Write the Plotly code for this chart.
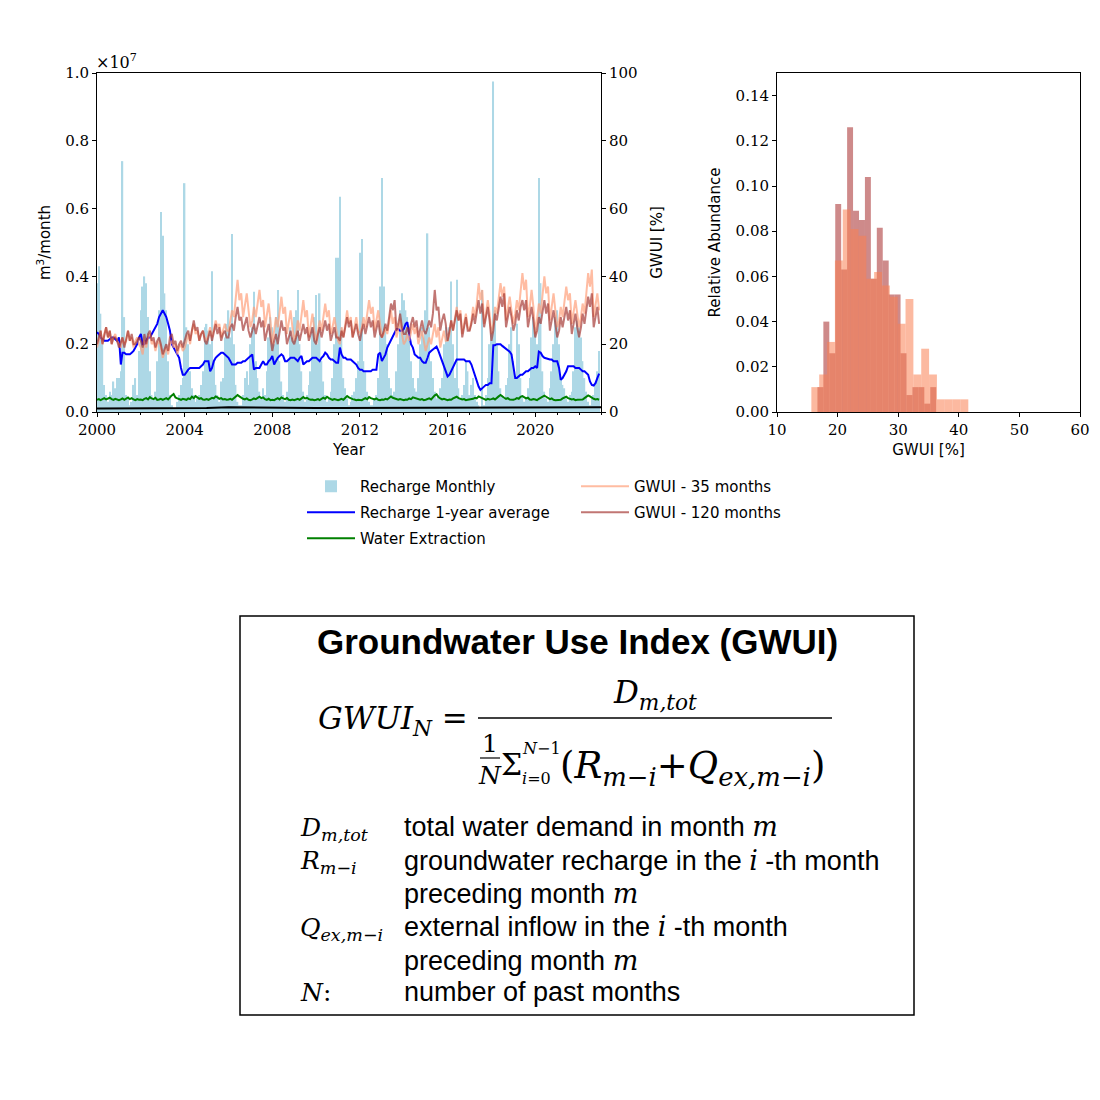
# gwui_figure.py
# recharge / extraction time series, GWUI histogram and the GWUI definition box

import plotly.graph_objects as go
import pandas as pd

# monthly recharge, units of 1e7 m3/month, one row per year 2000..2022
recharge_monthly = [
    0.38, 0.43, 0.29, 0.20, 0.08, 0.05, 0.03, 0.06, 0.05, 0.09, 0.07, 0.10,   # 2000
    0.10, 0.12, 0.74, 0.28, 0.05, 0.04, 0.02, 0.03, 0.08, 0.10, 0.05, 0.18,   # 2001
    0.30, 0.37, 0.40, 0.38, 0.28, 0.12, 0.05, 0.04, 0.06, 0.15, 0.30, 0.59,   # 2002
    0.52, 0.35, 0.30, 0.15, 0.05, 0.02, 0.01, 0.01, 0.03, 0.05, 0.08, 0.10,   # 2003
    0.675, 0.25, 0.20, 0.12, 0.07, 0.05, 0.03, 0.04, 0.05, 0.08, 0.12, 0.25,  # 2004
    0.26, 0.24, 0.20, 0.415, 0.15, 0.08, 0.05, 0.03, 0.09, 0.10, 0.22, 0.26,  # 2005
    0.30, 0.22, 0.525, 0.20, 0.08, 0.03, 0.02, 0.02, 0.05, 0.10, 0.12, 0.08,  # 2006
    0.20, 0.25, 0.355, 0.15, 0.10, 0.06, 0.04, 0.07, 0.05, 0.12, 0.22, 0.28,  # 2007
    0.25, 0.20, 0.28, 0.36, 0.15, 0.09, 0.05, 0.03, 0.06, 0.15, 0.25, 0.22,   # 2008
    0.28, 0.30, 0.36, 0.20, 0.12, 0.06, 0.03, 0.05, 0.08, 0.12, 0.25, 0.28,   # 2009
    0.345, 0.20, 0.35, 0.15, 0.09, 0.05, 0.03, 0.04, 0.06, 0.10, 0.20, 0.455, # 2010
    0.455, 0.635, 0.25, 0.10, 0.07, 0.04, 0.02, 0.03, 0.05, 0.06, 0.10, 0.15, # 2011
    0.47, 0.51, 0.15, 0.12, 0.06, 0.03, 0.02, 0.02, 0.04, 0.05, 0.10, 0.37,   # 2012
    0.69, 0.37, 0.25, 0.20, 0.10, 0.07, 0.05, 0.06, 0.12, 0.20, 0.30, 0.35,   # 2013
    0.33, 0.30, 0.28, 0.25, 0.15, 0.10, 0.07, 0.06, 0.10, 0.20, 0.25, 0.22,   # 2014
    0.30, 0.527, 0.25, 0.15, 0.10, 0.06, 0.04, 0.05, 0.07, 0.10, 0.20, 0.25,  # 2015
    0.22, 0.25, 0.385, 0.20, 0.10, 0.39, 0.07, 0.04, 0.05, 0.08, 0.15, 0.12,  # 2016
    0.05, 0.08, 0.10, 0.05, 0.03, 0.02, 0.01, 0.36, 0.02, 0.05, 0.10, 0.20,   # 2017
    0.25, 0.975, 0.30, 0.20, 0.12, 0.07, 0.05, 0.04, 0.08, 0.10, 0.20, 0.25,  # 2018
    0.15, 0.10, 0.26, 0.20, 0.10, 0.05, 0.03, 0.04, 0.07, 0.10, 0.22, 0.28,   # 2019
    0.25, 0.20, 0.69, 0.38, 0.12, 0.06, 0.04, 0.03, 0.07, 0.12, 0.20, 0.28,   # 2020
    0.30, 0.20, 0.10, 0.08, 0.07, 0.04, 0.03, 0.05, 0.06, 0.12, 0.25, 0.27,   # 2021
    0.25, 0.22, 0.15, 0.10, 0.06, 0.03, 0.02, 0.04, 0.05, 0.08, 0.12, 0.18,   # 2022
]

# 1-year moving average of recharge, 1e7 m3/month
recharge_1yr = [
    0.235, 0.23, 0.22, 0.215, 0.21, 0.21, 0.21, 0.215, 0.22, 0.22, 0.215, 0.21,
    0.22, 0.14, 0.175, 0.175, 0.17, 0.17, 0.17, 0.175, 0.18, 0.19, 0.20, 0.22,
    0.23, 0.20, 0.20, 0.21, 0.22, 0.22, 0.23, 0.24, 0.25, 0.26, 0.28, 0.29,
    0.30, 0.29, 0.28, 0.26, 0.24, 0.20, 0.19, 0.18, 0.17, 0.16, 0.13, 0.11,
    0.11, 0.12, 0.125, 0.13, 0.13, 0.13, 0.13, 0.13, 0.13, 0.135, 0.14, 0.15,
    0.15, 0.15, 0.12, 0.13, 0.15, 0.16, 0.165, 0.17, 0.175, 0.175, 0.17, 0.165,
    0.16, 0.15, 0.14, 0.14, 0.14, 0.145, 0.145, 0.145, 0.15, 0.15, 0.155, 0.16,
    0.165, 0.17, 0.125, 0.13, 0.13, 0.13, 0.14, 0.15, 0.14, 0.14, 0.15, 0.155,
    0.165, 0.14, 0.15, 0.16, 0.165, 0.17, 0.165, 0.15, 0.15, 0.155, 0.16, 0.16,
    0.16, 0.155, 0.15, 0.16, 0.165, 0.14, 0.145, 0.15, 0.15, 0.155, 0.16, 0.16,
    0.16, 0.155, 0.15, 0.16, 0.165, 0.175, 0.17, 0.16, 0.155, 0.155, 0.15, 0.145,
    0.145, 0.19, 0.17, 0.16, 0.16, 0.155, 0.155, 0.155, 0.15, 0.145, 0.14, 0.13,
    0.125, 0.125, 0.12, 0.12, 0.12, 0.12, 0.12, 0.125, 0.125, 0.125, 0.17, 0.175,
    0.15, 0.16, 0.17, 0.19, 0.20, 0.21, 0.22, 0.23, 0.245, 0.245, 0.24, 0.24,
    0.245, 0.26, 0.265, 0.23, 0.20, 0.19, 0.17, 0.165, 0.16, 0.16, 0.15, 0.145,
    0.145, 0.16, 0.175, 0.18, 0.185, 0.19, 0.193, 0.18, 0.165, 0.15, 0.13, 0.115,
    0.105, 0.11, 0.12, 0.13, 0.14, 0.155, 0.155, 0.155, 0.155, 0.155, 0.15, 0.15,
    0.15, 0.14, 0.125, 0.11, 0.09, 0.075, 0.065, 0.07, 0.075, 0.08, 0.08, 0.085,
    0.085, 0.197, 0.197, 0.20, 0.20, 0.20, 0.195, 0.19, 0.185, 0.18, 0.178, 0.17,
    0.14, 0.10, 0.10, 0.105, 0.11, 0.11, 0.115, 0.12, 0.12, 0.125, 0.13, 0.13,
    0.135, 0.13, 0.178, 0.175, 0.165, 0.16, 0.158, 0.155, 0.155, 0.155, 0.15, 0.15,
    0.15, 0.13, 0.095, 0.10, 0.11, 0.12, 0.135, 0.135, 0.135, 0.135, 0.13, 0.13,
    0.13, 0.125, 0.12, 0.12, 0.115, 0.11, 0.09, 0.08, 0.078, 0.085, 0.10, 0.113,
]

# water extraction, 1e7 m3/month
water_extraction = [
    .036, .038, .035, .039, .041, .037, .040, .042, .038, .036, .039, .037,
    .035, .037, .040, .036, .039, .043, .038, .041, .037, .035, .038, .036,
    .037, .035, .039, .041, .037, .044, .040, .038, .042, .036, .037, .039,
    .036, .038, .041, .037, .044, .049, .053, .043, .040, .038, .036, .039,
    .037, .036, .040, .038, .045, .041, .047, .042, .039, .041, .037, .036,
    .038, .036, .039, .042, .040, .046, .043, .039, .041, .037, .038, .036,
    .037, .039, .036, .041, .044, .050, .046, .042, .039, .037, .040, .036,
    .035, .037, .040, .038, .042, .045, .041, .043, .038, .036, .039, .035,
    .036, .035, .038, .041, .037, .043, .040, .038, .041, .036, .035, .037,
    .035, .037, .039, .036, .041, .044, .040, .042, .038, .036, .037, .035,
    .036, .038, .035, .040, .042, .039, .045, .041, .038, .036, .038, .037,
    .035, .037, .039, .036, .042, .047, .043, .040, .038, .037, .035, .036,
    .036, .035, .038, .041, .038, .044, .041, .039, .037, .040, .036, .035,
    .037, .036, .039, .037, .043, .046, .042, .040, .038, .036, .038, .036,
    .035, .037, .036, .040, .038, .043, .041, .039, .037, .036, .038, .035,
    .036, .038, .040, .037, .044, .049, .052, .044, .040, .037, .039, .036,
    .035, .037, .036, .040, .042, .045, .041, .039, .037, .038, .035, .036,
    .037, .036, .039, .042, .040, .046, .043, .041, .038, .036, .039, .037,
    .038, .040, .037, .043, .046, .050, .045, .042, .039, .041, .037, .036,
    .036, .038, .041, .039, .045, .047, .043, .040, .042, .037, .036, .038,
    .037, .035, .039, .042, .044, .048, .045, .041, .038, .040, .036, .035,
    .035, .037, .036, .040, .043, .045, .041, .039, .037, .038, .035, .036,
    .036, .038, .037, .041, .044, .049, .046, .042, .039, .037, .038, .036,
]

# black base line (yearly points), 1e7 m3/month
base_years = list(range(2000, 2024))
base_flow = [0.010, 0.010, 0.010, 0.010, 0.011, 0.012, 0.014, 0.013, 0.012, 0.012,
             0.012, 0.012, 0.012, 0.012, 0.012, 0.012, 0.012, 0.012, 0.012, 0.013,
             0.013, 0.014, 0.014, 0.014]

# GWUI [%], 35 month window
gwui_35 = [
    19, 21, 24, 20, 23, 25, 22, 24, 20, 22, 23, 21,
    20, 19, 22, 20, 21, 24, 21, 22, 19, 21, 22, 20,
    19, 17, 21, 19, 22, 23, 20, 21, 18, 20, 21, 19,
    16, 18, 19, 17, 20, 21, 19, 20, 17, 19, 20, 18,
    19, 21, 23, 20, 24, 26, 23, 24, 21, 23, 24, 22,
    21, 23, 25, 22, 25, 27, 25, 26, 22, 24, 26, 24,
    24, 27, 30, 28, 34, 39, 33, 35, 28, 31, 35, 30,
    25, 27, 31, 28, 32, 36, 31, 33, 25, 28, 32, 27,
    20, 24, 28, 25, 29, 34, 29, 31, 23, 26, 30, 25,
    21, 23, 27, 24, 28, 33, 28, 30, 22, 25, 29, 24,
    21, 24, 27, 24, 28, 32, 28, 30, 23, 25, 28, 24,
    21, 20, 25, 22, 26, 30, 26, 28, 22, 25, 28, 24,
    23, 25, 28, 25, 29, 33, 29, 31, 24, 27, 30, 26,
    22, 23, 25, 23, 27, 30, 26, 28, 22, 25, 27, 23,
    20, 21, 23, 21, 24, 26, 23, 25, 20, 22, 24, 21,
    18, 20, 22, 20, 23, 26, 22, 25, 19, 22, 24, 21,
    21, 23, 27, 24, 28, 31, 27, 30, 23, 26, 29, 25,
    24, 27, 31, 28, 32, 38, 33, 36, 26, 29, 33, 29,
    23, 26, 31, 29, 34, 38, 34, 37, 27, 30, 34, 30,
    26, 29, 33, 30, 35, 41, 36, 39, 28, 31, 36, 31,
    23, 27, 32, 29, 34, 40, 35, 37, 27, 31, 35, 30,
    25, 27, 31, 28, 32, 37, 33, 35, 26, 29, 33, 29,
    25, 28, 32, 29, 35, 41, 37, 42, 28, 31, 35, 30,
]

# GWUI [%], 120 month window
gwui_120 = [
    20, 22, 24, 20, 23, 25, 22, 24, 20, 22, 22, 21,
    19, 21, 22, 19, 22, 24, 21, 23, 20, 20, 21, 22,
    21, 19, 23, 20, 23, 24, 21, 22, 19, 21, 22, 20,
    17, 19, 20, 18, 22, 23, 20, 21, 18, 20, 21, 19,
    21, 23, 24, 21, 24, 27, 24, 25, 21, 23, 24, 21,
    20, 22, 24, 21, 24, 26, 23, 25, 21, 23, 24, 22,
    22, 25, 26, 24, 28, 31, 27, 28, 24, 26, 28, 24,
    22, 24, 26, 23, 26, 28, 25, 27, 21, 24, 26, 22,
    18, 21, 23, 20, 24, 27, 24, 25, 20, 22, 24, 21,
    20, 22, 24, 21, 24, 26, 23, 25, 21, 23, 25, 21,
    20, 23, 25, 22, 25, 27, 24, 26, 21, 23, 25, 22,
    22, 21, 24, 22, 25, 28, 25, 27, 22, 24, 26, 23,
    21, 24, 26, 23, 26, 28, 25, 27, 22, 25, 27, 23,
    22, 24, 26, 24, 28, 32, 30, 33, 24, 26, 29, 25,
    23, 23, 25, 23, 26, 28, 25, 27, 22, 25, 27, 24,
    23, 25, 27, 25, 29, 36, 30, 31, 24, 27, 29, 26,
    21, 24, 27, 24, 27, 30, 27, 29, 22, 25, 28, 24,
    24, 26, 29, 26, 29, 33, 29, 32, 25, 28, 31, 27,
    21, 24, 29, 27, 31, 34, 31, 35, 25, 28, 31, 28,
    24, 26, 30, 27, 31, 33, 30, 33, 25, 28, 31, 27,
    22, 24, 28, 26, 30, 33, 29, 32, 24, 27, 30, 26,
    22, 24, 28, 25, 28, 31, 27, 30, 23, 26, 29, 25,
    22, 25, 29, 26, 30, 34, 31, 35, 25, 28, 31, 26,
]

# histograms (relative abundance per bin)
hist35_start, hist35_width = 15.67, 1.295
hist35_heights = [0.011, 0.0166, 0.031, 0.067, 0.0896, 0.081, 0.078, 0.059, 0.062, 0.056,
                  0.051, 0.039, 0.050, 0.0166, 0.028, 0.0166, 0.0056, 0.0056, 0.0056, 0.0056]
hist120_start, hist120_width = 16.67, 0.98
hist120_heights = [0.011, 0.040, 0.026, 0.092, 0.063, 0.126, 0.089, 0.085, 0.104, 0.059,
                   0.0815, 0.067, 0.052, 0.052, 0.026, 0.0075, 0.011, 0.011, 0.0037, 0.011]

months = pd.date_range("2000-01-01", periods=len(recharge_monthly), freq="MS")
base_dates = [f"{y}-01-01" for y in base_years]

# page body has an 8px margin, so the figure is a bit smaller and coordinates shifted
OFF = 8
W = H = 1084
def px(x):
    return (x - OFF) / W
def py(y):
    return 1 - (y - OFF) / H

SERIF = "DejaVu Serif"
SANS = "DejaVu Sans"
MATH = "DejaVu Serif"

fig = go.Figure()

# left panel
fig.add_trace(go.Bar(x=months, y=recharge_monthly, name="Recharge Monthly",
                     marker=dict(color="#ADD8E6", line_width=0), width=24 * 86400000,
                     legend="legend", legendgroup="a"))
fig.add_trace(go.Scatter(x=months, y=recharge_1yr, mode="lines", name="Recharge 1-year average",
                         line=dict(color="blue", width=2), legend="legend", legendgroup="b"))
fig.add_trace(go.Scatter(x=months, y=water_extraction, mode="lines", name="Water Extraction",
                         line=dict(color="green", width=2), legend="legend", legendgroup="c"))
fig.add_trace(go.Scatter(x=base_dates, y=base_flow, mode="lines", showlegend=False,
                         line=dict(color="black", width=2)))
fig.add_trace(go.Scatter(x=months, y=gwui_35, mode="lines", name="GWUI - 35 months", yaxis="y2",
                         line=dict(color="rgba(255,160,122,0.7)", width=2),
                         legend="legend2", legendgroup="d"))
fig.add_trace(go.Scatter(x=months, y=gwui_120, mode="lines", name="GWUI - 120 months", yaxis="y2",
                         line=dict(color="rgba(160,45,40,0.65)", width=2),
                         legend="legend2", legendgroup="e"))

# right panel, histograms
c120 = [hist120_start + hist120_width * (i + 0.5) for i in range(len(hist120_heights))]
c35 = [hist35_start + hist35_width * (i + 0.5) for i in range(len(hist35_heights))]
fig.add_trace(go.Bar(x=c120, y=hist120_heights, width=hist120_width, xaxis="x3", yaxis="y3",
                     marker=dict(color="rgba(165,42,42,0.55)", line_width=0), showlegend=False))
fig.add_trace(go.Bar(x=c35, y=hist35_heights, width=hist35_width, xaxis="x3", yaxis="y3",
                     marker=dict(color="rgba(250,128,82,0.55)", line_width=0), showlegend=False))

tickfont = dict(family=SERIF, size=15, color="black")
titlefont = dict(family=SANS, size=15, color="black")
axis_common = dict(showline=True, linecolor="black", linewidth=1, ticks="outside", ticklen=4,
                   tickcolor="black", showgrid=False, zeroline=False, automargin=False,
                   tickfont=tickfont)
legend_common = dict(xanchor="left", yanchor="top", orientation="v", tracegroupgap=3.5,
                     font=dict(family=SANS, size=15, color="black"), bgcolor="rgba(0,0,0,0)",
                     itemwidth=48)

fig.update_layout(
    width=W, height=H, template="none", paper_bgcolor="white", plot_bgcolor="rgba(0,0,0,0)",
    font=dict(family=SERIF, size=15, color="black"),
    margin=dict(l=0, r=0, t=0, b=0), barmode="overlay",
    xaxis=dict(axis_common, domain=[px(97), px(601)], anchor="y", type="date",
               range=["2000-01-01", "2023-01-01"], tick0="2000-01-01", dtick="M48",
               tickformat="%Y", mirror=True,
               minor=dict(dtick="M12", ticks="outside", ticklen=2, tickcolor="black"),
               title=dict(text="Year", font=titlefont, standoff=6)),
    yaxis=dict(axis_common, domain=[py(412), py(73)], anchor="x", range=[0, 1.0], dtick=0.2,
               tickformat=".1f", title=dict(text="m<sup>3</sup>/month", font=titlefont, standoff=10)),
    yaxis2=dict(axis_common, overlaying="y", side="right", anchor="x", range=[0, 100], dtick=20,
                title=dict(text="GWUI [%]", font=titlefont, standoff=14)),
    xaxis3=dict(axis_common, domain=[px(777), px(1080)], anchor="y3", range=[10, 60], dtick=10,
                mirror=True, title=dict(text="GWUI [%]", font=titlefont, standoff=6)),
    yaxis3=dict(axis_common, domain=[py(412), py(73)], anchor="x3", range=[0, 0.15], dtick=0.02,
                tickformat=".2f", mirror=True,
                title=dict(text="Relative Abundance", font=titlefont, standoff=11)),
    legend=dict(legend_common, x=px(302), y=py(470)),
    legend2=dict(legend_common, x=px(576), y=py(470)),
)

ann = []
ann.append(dict(x=px(94), y=py(74), xanchor="left", yanchor="bottom",
                text="×10<sup>7</sup>", font=dict(family=SERIF, size=16, color="black")))

# formula box
fig.add_shape(type="rect", xref="paper", yref="paper", x0=px(240), x1=px(914), y0=py(1015), y1=py(616),
              line=dict(color="black", width=1.5))
ann.append(dict(x=px(577), y=py(641), text="<b>Groundwater Use Index (GWUI)</b>",
                font=dict(family="Liberation Sans", size=35, color="black")))

math = dict(family=MATH, color="black")
ann.append(dict(x=px(470), y=py(720), xanchor="right", text="<i>GWUI</i><sub><i>N</i></sub> =",
                font=dict(math, size=31)))
fig.add_shape(type="line", xref="paper", yref="paper", x0=px(478), x1=px(832), y0=py(718), y1=py(718),
              line=dict(color="black", width=1.5))
ann.append(dict(x=px(655), y=py(694), text="<i>D</i><sub><i>m,tot</i></sub>", font=dict(math, size=31)))
ann.append(dict(x=px(490), y=py(743), text="1", font=dict(math, size=25)))
fig.add_shape(type="line", xref="paper", yref="paper", x0=px(480), x1=px(500), y0=py(758), y1=py(758),
              line=dict(color="black", width=1.2))
ann.append(dict(x=px(490), y=py(775), text="<i>N</i>", font=dict(math, size=25)))
ann.append(dict(x=px(511), y=py(764), text="Σ", font=dict(math, size=30)))
ann.append(dict(x=px(520), y=py(748), xanchor="left", text="<i>N</i>−1", font=dict(math, size=16)))
ann.append(dict(x=px(520), y=py(778), xanchor="left", text="<i>i</i>=0", font=dict(math, size=16)))
ann.append(dict(x=px(558), y=py(768), xanchor="left",
                text="(<i>R</i><sub><i>m−i</i></sub>+<i>Q</i><sub><i>ex,m−i</i></sub>)",
                font=dict(math, size=37)))

symbols = [("<i>D</i><sub><i>m,tot</i></sub>", 829), ("<i>R</i><sub><i>m−i</i></sub>", 862),
           ("<i>Q</i><sub><i>ex,m−i</i></sub>", 929), ("<i>N</i>:", 992)]
for s, y in symbols:
    ann.append(dict(x=px(298), y=py(y), xanchor="left", text=s, font=dict(math, size=25)))

mi = '<span style="font-family:DejaVu Serif"><i>{}</i></span>'
lines = [("total water demand in month " + mi.format("m"), 826),
         ("groundwater recharge in the " + mi.format("i") + " -th month", 860),
         ("preceding month " + mi.format("m"), 893),
         ("external inflow in the " + mi.format("i") + " -th month", 926),
         ("preceding month " + mi.format("m"), 960),
         ("number of past months", 992)]
for t, y in lines:
    ann.append(dict(x=px(402), y=py(y), xanchor="left", text=t,
                    font=dict(family="Liberation Sans", size=27, color="black")))

for a in ann:
    a.setdefault("xref", "paper")
    a.setdefault("yref", "paper")
    a.setdefault("xanchor", "center")
    a.setdefault("yanchor", "middle")
    a.setdefault("showarrow", False)
fig.update_layout(annotations=ann)

fig.write_html("out.html")
